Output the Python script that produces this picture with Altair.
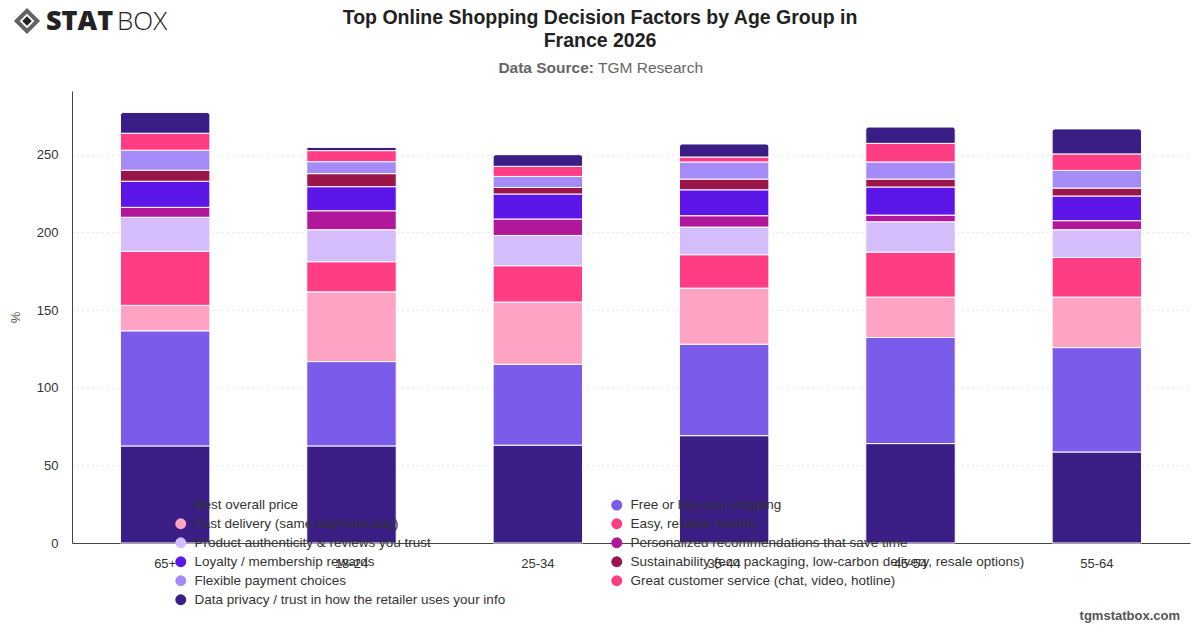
import altair as alt
import pandas as pd

# Age groups in display order
ages = ["65+", "18-24", "25-34", "35-44", "45-54", "55-64"]

# Decision factors, bottom of the stack first
factors = [
    "Best overall price",
    "Free or low-cost shipping",
    "Fast delivery (same-day/next-day)",
    "Easy, reliable returns",
    "Product authenticity & reviews you trust",
    "Personalized recommendations that save time",
    "Loyalty / membership rewards",
    "Sustainability (eco packaging, low-carbon delivery, resale options)",
    "Flexible payment choices",
    "Great customer service (chat, video, hotline)",
    "Data privacy / trust in how the retailer uses your info",
]

# Share of respondents (%) per factor, one value per age group
best_price = [62.5, 62.5, 63.0, 69.1, 64.0, 58.6]
free_shipping = [74.1, 54.3, 52.1, 58.9, 68.3, 67.2]
fast_delivery = [16.4, 44.9, 40.0, 36.1, 26.0, 32.5]
easy_returns = [34.8, 19.4, 23.4, 21.5, 29.0, 25.5]
authenticity = [21.9, 20.6, 19.5, 17.8, 19.5, 17.9]
personalized = [6.4, 12.2, 10.6, 7.3, 4.3, 5.8]
loyalty = [16.8, 15.5, 16.1, 16.7, 18.1, 15.9]
sustainability = [7.1, 8.4, 4.2, 6.9, 5.1, 5.1]
flexible_payment = [12.9, 7.7, 7.1, 11.0, 11.0, 11.4]
customer_service = [10.9, 7.1, 6.5, 3.2, 12.0, 10.6]
data_privacy = [13.4, 2.1, 7.5, 8.4, 10.5, 16.1]

series = [best_price, free_shipping, fast_delivery, easy_returns, authenticity,
          personalized, loyalty, sustainability, flexible_payment,
          customer_service, data_privacy]

colors = ["#3a1e86", "#7b5cea", "#ffa3c4", "#ff3d85", "#d4bdfa", "#b0179a",
          "#5c16e8", "#9a1549", "#a58bf8", "#ff3d85", "#3a1e86"]

rows = []
for i, (name, vals) in enumerate(zip(factors, series)):
    for age, v in zip(ages, vals):
        rows.append({"age": age, "factor": name, "value": v, "idx": i})
df = pd.DataFrame(rows)

W, H = 1118, 452
FONT = "Liberation Sans"

x_enc = alt.X(
    "age:N", sort=ages, title=None,
    scale=alt.Scale(paddingInner=0.52, paddingOuter=0.26),
    axis=alt.Axis(labelAngle=0, labelFontSize=13, labelColor="#333",
                  labelPadding=14, ticks=False, domainColor="#444",
                  domainWidth=1, grid=False, labelFont=FONT),
)
y_enc = alt.Y(
    "y0:Q", title="%",
    scale=alt.Scale(domain=[0, 291], nice=False),
    axis=alt.Axis(values=[0, 50, 100, 150, 200, 250], labelFontSize=13,
                  labelColor="#333", labelPadding=14, ticks=False,
                  domainColor="#444", domainWidth=1, grid=True,
                  gridColor="#cfcfcf", gridDash=[1, 4], gridWidth=1,
                  titleFontSize=13, titleColor="#555", titleFontWeight="normal",
                  titleX=-50, labelFont=FONT, titleFont=FONT),
)
legend = alt.Legend(
    title=None, orient="none", legendX=102, legendY=407, columns=2,
    direction="horizontal",
    symbolType="circle", symbolSize=120, symbolStrokeWidth=0,
    labelFontSize=13.5, labelColor="#333", labelFont=FONT, labelLimit=500,
    labelOffset=7, rowPadding=4, columnPadding=104,
)
color_enc = alt.Color("factor:N", scale=alt.Scale(domain=factors, range=colors),
                      legend=legend)

stacked = alt.Chart(df).transform_stack(
    stack="value", groupby=["age"], as_=["y0", "y1"],
    sort=[alt.SortField("idx", order="ascending")],
)

lower = stacked.transform_filter(alt.datum.idx < 10).mark_bar(
    stroke="white", strokeWidth=1
).encode(x=x_enc, y=y_enc, y2="y1:Q", color=color_enc)

top = stacked.transform_filter(alt.datum.idx == 10).mark_bar(
    stroke="white", strokeWidth=1, cornerRadiusTopLeft=3, cornerRadiusTopRight=3
).encode(x=x_enc, y=y_enc, y2="y1:Q", color=color_enc)


def label(text, x, y, size, weight="normal", color="#222", align="center",
          font=FONT):
    return alt.Chart(pd.DataFrame({"t": [text]})).mark_text(
        fontSize=size, fontWeight=weight, color=color, align=align,
        baseline="middle", font=font,
    ).encode(text="t:N", x=alt.value(x), y=alt.value(y))


title1 = label("Top Online Shopping Decision Factors by Age Group in", 528, -73,
               19.5, "bold", "#222")
title2 = label("France 2026", 528, -50, 19.5, "bold", "#222")
sub_a = label("Data Source:", 522, -23, 15.5, "bold", "#666", "right")
sub_b = label("TGM Research", 526, -23, 15.5, "normal", "#666", "left")
footer = label("tgmstatbox.com", 1108, 525, 13, "bold", "#555", "right")

# Brand mark in the top-left corner
logo_df = pd.DataFrame({"k": [0]})
diamond_outer = alt.Chart(logo_df).mark_point(
    shape="diamond", filled=False, stroke="#222", strokeWidth=4, size=420
).encode(x=alt.value(-45), y=alt.value(-70))
diamond_inner = alt.Chart(logo_df).mark_point(
    shape="diamond", filled=True, fill="#222", opacity=1, size=90
).encode(x=alt.value(-45), y=alt.value(-70))
logo_a = label("STAT", -26, -69, 27, 900, "#222", "left", "Open Sans")
logo_b = label("BOX", 45, -69, 26, 300, "#222", "left", "Open Sans")

chart = alt.layer(
    lower, top, title1, title2, sub_a, sub_b, footer,
    diamond_outer, diamond_inner, logo_a, logo_b,
).properties(
    width=W, height=H, background="white",
    autosize=alt.AutoSizeParams(type="none"),
    padding={"left": 72, "top": 91, "right": 10, "bottom": 85},
).configure_view(stroke=None)

chart.save("out.html", embed_options={"renderer": "svg", "actions": False})
